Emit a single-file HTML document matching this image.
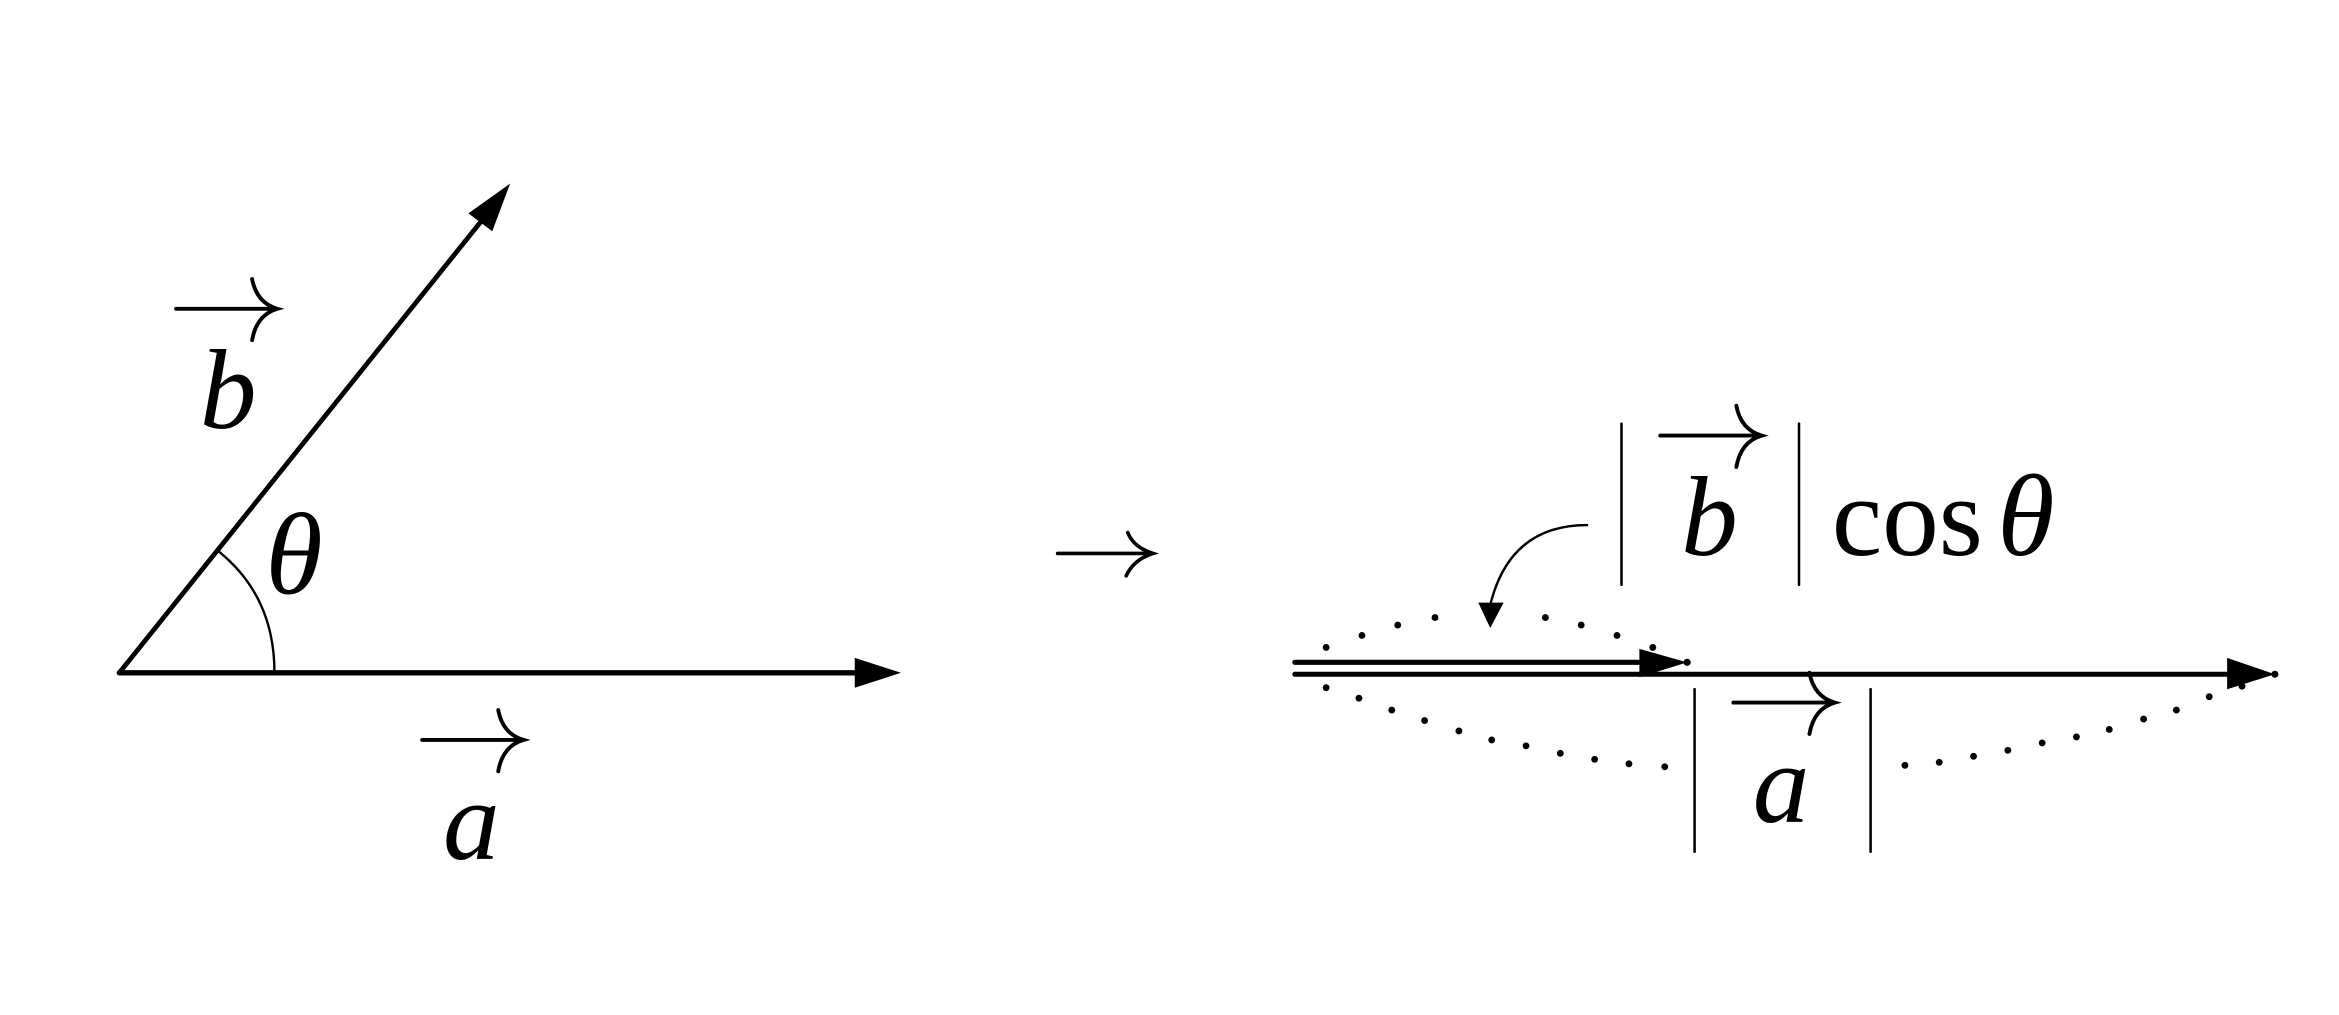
<!DOCTYPE html>
<html><head><meta charset="utf-8"><style>
html,body{margin:0;padding:0;background:#fff;}
svg{display:block;}
text{font-family:"Liberation Serif",serif;fill:#000;}
</style></head><body>
<svg width="2339" height="1015" viewBox="0 0 1568 680.4" xmlns="http://www.w3.org/2000/svg">
<rect width="1568" height="680.4" fill="#fff"/>
<g stroke="#000" fill="none" stroke-linecap="round">
 <line x1="80" y1="451" x2="580" y2="451" stroke-width="3.6"/>
 <line x1="80" y1="451" x2="326" y2="144" stroke-width="3.2"/>
 <path d="M147,370 Q184,400 184,451" stroke-width="1.6"/>
 <path d="M118,207 H185 M169,187 Q172,203 186,207 Q172,211 169,228" stroke-width="2.6"/>
 <path d="M283,496 H350 M334,476 Q337,492 351,496 Q337,500 334,517" stroke-width="2.6"/>
 <path d="M709,371 H772 M756,357 Q760,367 773,371 Q760,375 755,386" stroke-width="2.4"/>
 <path d="M1113,292 H1180 M1164,272 Q1167,288 1181,292 Q1167,296 1164,313" stroke-width="2.6"/>
 <path d="M1162,471 H1229 M1213,451 Q1216,467 1230,471 Q1216,475 1213,492" stroke-width="2.6"/>
 <line x1="868" y1="444" x2="1105" y2="444" stroke-width="3.4"/>
 <line x1="868" y1="452" x2="1500" y2="452" stroke-width="3.4"/>
 <path d="M1064,352 Q1010,352 998,410" stroke-width="1.6"/>
 <line x1="1087" y1="284" x2="1087" y2="392" stroke-width="1.7"/>
 <line x1="1206" y1="284" x2="1206" y2="392" stroke-width="1.7"/>
 <line x1="1136" y1="462" x2="1136" y2="571" stroke-width="1.7"/>
 <line x1="1254" y1="462" x2="1254" y2="571" stroke-width="1.7"/>
</g>
<g fill="#000">
 <polygon points="573,441 604,451 573,461"/>
 <polygon points="342,123 330,155 314,143"/>
 <polygon points="1099,435 1131,444 1099,454"/>
 <polygon points="1493,441 1525,452 1493,462"/>
 <polygon points="991,404 1008,404 999,421"/>
 <g>
 <circle cx="889" cy="434" r="2.3"/><circle cx="913" cy="426" r="2.3"/><circle cx="937" cy="419" r="2.3"/><circle cx="962" cy="414" r="2.3"/>
 <circle cx="1036" cy="414" r="2.3"/><circle cx="1060" cy="419" r="2.3"/><circle cx="1084" cy="426" r="2.3"/><circle cx="1108" cy="434" r="2.3"/>
 <circle cx="889" cy="461" r="2.3"/><circle cx="911" cy="468" r="2.3"/><circle cx="933" cy="476" r="2.3"/><circle cx="955" cy="483" r="2.3"/><circle cx="978" cy="490" r="2.3"/><circle cx="1000" cy="496" r="2.3"/><circle cx="1023" cy="500" r="2.3"/><circle cx="1046" cy="505" r="2.3"/><circle cx="1069" cy="509" r="2.3"/><circle cx="1092" cy="512" r="2.3"/><circle cx="1116" cy="514" r="2.3"/>
 <circle cx="1277" cy="513" r="2.3"/><circle cx="1300" cy="511" r="2.3"/><circle cx="1323" cy="507" r="2.3"/><circle cx="1346" cy="503" r="2.3"/><circle cx="1369" cy="498" r="2.3"/><circle cx="1392" cy="494" r="2.3"/><circle cx="1414" cy="489" r="2.3"/><circle cx="1437" cy="482" r="2.3"/><circle cx="1459" cy="476" r="2.3"/><circle cx="1481" cy="467" r="2.3"/><circle cx="1503" cy="460" r="2.3"/>
 <circle cx="1131" cy="444" r="2.4"/><circle cx="1525" cy="452" r="2.4"/>
 </g>
</g>
<text x="134" y="287" font-size="76" font-style="italic">b</text>
<text x="178" y="398" font-size="78" font-style="italic">θ</text>
<text x="297" y="576" font-size="76" font-style="italic">a</text>
<text x="1127" y="372" font-size="76" font-style="italic">b</text>
<text x="1228" y="372" font-size="76">cos</text>
<text x="1339" y="372" font-size="78" font-style="italic">θ</text>
<text x="1175" y="551" font-size="76" font-style="italic">a</text>
</svg>
</body></html>
